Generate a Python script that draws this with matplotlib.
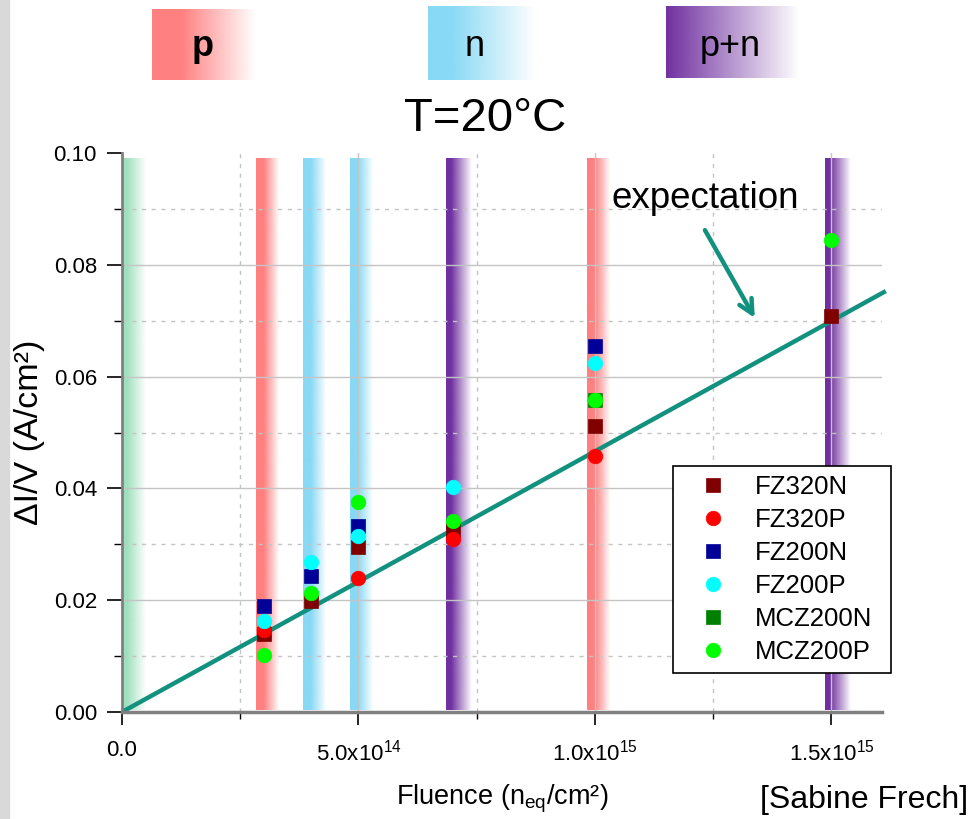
import numpy as np
import matplotlib
matplotlib.use("Agg")
import matplotlib.pyplot as plt
from matplotlib.colors import to_rgb
from matplotlib.patches import Rectangle

plt.rcParams['font.family'] = ['Liberation Sans', 'DejaVu Sans']
plt.rcParams['mathtext.fontset'] = 'custom'
plt.rcParams['mathtext.rm'] = 'Liberation Sans'
plt.rcParams['mathtext.it'] = 'Liberation Sans'

# ---- data ----
fluence = [3e14, 4e14, 5e14, 7e14, 1e15, 1.5e15]
nan = np.nan
series_names = ["FZ320N", "FZ320P", "FZ200N", "FZ200P", "MCZ200N", "MCZ200P"]
FZ320N = [0.0140, 0.0199, 0.0296, 0.0326, 0.0512, 0.0708]
FZ320P = [0.0147, nan, 0.0240, 0.0310, 0.0458, nan]
FZ200N = [0.0190, 0.0243, 0.0332, nan, 0.0655, nan]
FZ200P = [0.0163, 0.0269, 0.0314, 0.0403, 0.0625, nan]
MCZ200N = [nan, nan, nan, nan, 0.0558, nan]
MCZ200P = [0.0102, 0.0213, 0.0375, 0.0342, 0.0558, 0.0844]
series_values = [FZ320N, FZ320P, FZ200N, FZ200P, MCZ200N, MCZ200P]
series_markers = ['s', 'o', 's', 'o', 's', 'o']
series_colors = ['#800000', '#ff0000', '#000099', '#00ffff', '#008000', '#00ff00']

expect_x = [0.0, 1.615e15]
expect_y = [0.0, 0.0753]

band_x = [0.0, 3e14, 4e14, 5e14, 7e14, 1e15, 1.5e15]
band_type = ['g', 'p', 'n', 'n', 'pn', 'p', 'pn']

xticks = [0.0, 5e14, 1e15, 1.5e15]
xtick_labels = ["0.0", r"5.0x10$^{14}$", r"1.0x10$^{15}$", r"1.5x10$^{15}$"]
yticks = [0.00, 0.02, 0.04, 0.06, 0.08, 0.10]
ytick_labels = ["0.00", "0.02", "0.04", "0.06", "0.08", "0.10"]

band_colors = {'g': '#9fe0bf', 'p': '#ff8080', 'n': '#88d9f5', 'pn': '#7030a0'}
teal = '#12917f'

W, H = 971, 819
fig = plt.figure(figsize=(W / 100, H / 100), dpi=100)
fig.patches.append(Rectangle((0, 0), 9 / W, 1, transform=fig.transFigure,
                             color='#d9d9d9', zorder=0))


def grad_img(color, solid, end, n=200):
    rgb = to_rgb(color)
    t = np.linspace(0, 1, n)
    a = np.clip((end - t) / (end - solid), 0, 1)
    img = np.zeros((1, n, 4))
    img[..., 0], img[..., 1], img[..., 2] = rgb
    img[..., 3] = a
    return img


# header boxes (figure pixel coords)
def header(x0, x1, y0, y1, color, solid, end, text, weight='normal', tx=None):
    hax = fig.add_axes([x0 / W, 1 - y1 / H, (x1 - x0) / W, (y1 - y0) / H])
    hax.imshow(grad_img(color, solid, end), aspect='auto', extent=[0, 1, 0, 1],
               interpolation='bilinear')
    hax.set_axis_off()
    fig.text(tx / W, 1 - 46 / H, text, ha='center', va='center', fontsize=26,
             fontweight=weight)


header(152, 256, 9, 80, band_colors['p'], 0.28, 1.0, 'p', 'bold', 203)
header(428, 535, 6, 80, band_colors['n'], 0.22, 1.0, 'n', 'normal', 475)
header(666, 800, 6, 78, band_colors['pn'], 0.0, 1.0, 'p+n', 'normal', 730)

ax = fig.add_axes([122 / W, 107 / H, 760 / W, 559 / H])
ax.set_axisbelow(True)

for bx, bt in zip(band_x, band_type):
    if bt == 'g':
        x0, w, s, e = bx, 5.0e13, 0.2, 1.0
    elif bt == 'pn':
        x0, w, s, e = bx - 1.4e13, 5.4e13, 0.2, 1.0
    else:
        x0, w, s, e = bx - 1.7e13, 5.4e13, 0.3, 0.9
    ax.imshow(grad_img(band_colors[bt], s, e), aspect='auto',
              extent=[x0, x0 + w, 0.0003, 0.099], interpolation='bilinear',
              zorder=0.2)

ax.plot(expect_x, expect_y, color=teal, lw=3.2, zorder=2, clip_on=False,
        solid_capstyle='butt')

for name, vals, m, c in zip(series_names, series_values, series_markers, series_colors):
    ms = 9.5 if m == 's' else 10.5
    ax.plot(fluence, vals, linestyle='none', marker=m, color=c, ms=ms,
            markeredgewidth=0.5, markeredgecolor=c, label=name, zorder=3)

ax.set_xlim(0, 1.607e15)
ax.set_ylim(0, 0.10)

ax.set_xticks(xticks)
ax.set_xticklabels(xtick_labels, fontsize=16)
ax.set_xticks([2.5e14, 7.5e14, 1.25e15], minor=True)
ax.set_yticks(yticks)
ax.set_yticklabels(ytick_labels, fontsize=16)
ax.set_yticks([0.01, 0.03, 0.05, 0.07, 0.09], minor=True)

ax.tick_params(axis='x', which='major', direction='out', length=9, width=1.2,
               pad=11, colors='black')
ax.tick_params(axis='x', which='minor', direction='out', length=5, width=1.0)
ax.tick_params(axis='y', which='major', direction='out', length=11, width=1.2,
               pad=7)
ax.tick_params(axis='y', which='minor', direction='out', length=6, width=1.0)

ax.grid(which='major', color='#c4c4c4', lw=1.0, ls='-')
ax.grid(which='minor', color='#c4c4c4', lw=1.0, ls=(0, (3, 4)))
ygl = ax.yaxis.get_gridlines()
ygl[-1].set_visible(False)

for sp in ['top', 'right']:
    ax.spines[sp].set_visible(False)
ax.spines['left'].set_color('#808080')
ax.spines['left'].set_linewidth(2)
ax.spines['bottom'].set_color('#808080')
ax.spines['bottom'].set_linewidth(2.5)

fig.text(485 / W, 1 - 119 / H, 'T=20°C', ha='center', va='center', fontsize=34)
ax.set_ylabel('ΔI/V (A/cm²)', fontsize=24.5, labelpad=6)
ax.set_xlabel(r'Fluence (n$_{\rm eq}$/cm²)', fontsize=19.5, labelpad=12)

fig.text(968 / W, 1 - 800 / H, '[Sabine Frech]', ha='right', va='center',
         fontsize=23)

ax.annotate('', xy=(1.338e15, 0.0705), xytext=(1.2326e15, 0.0862),
            arrowprops=dict(arrowstyle='->,head_length=1.0,head_width=0.5',
                            color=teal, lw=3.2, shrinkA=0, shrinkB=0), zorder=4)
ax.text(1.2326e15, 0.0918, 'expectation', ha='center', va='center', fontsize=26.5)

leg = ax.legend(loc='upper left', bbox_to_anchor=(0.725, 0.0716, 0.287, 0.3684),
                mode='expand', fontsize=18.5,
                frameon=True, fancybox=False, edgecolor='black', framealpha=1,
                borderpad=0.35, labelspacing=0.35, handlelength=2.4,
                handletextpad=0.45, borderaxespad=0)
leg.get_frame().set_linewidth(1.2)
leg.set_zorder(5)

fig.savefig('out.png', dpi=100)
